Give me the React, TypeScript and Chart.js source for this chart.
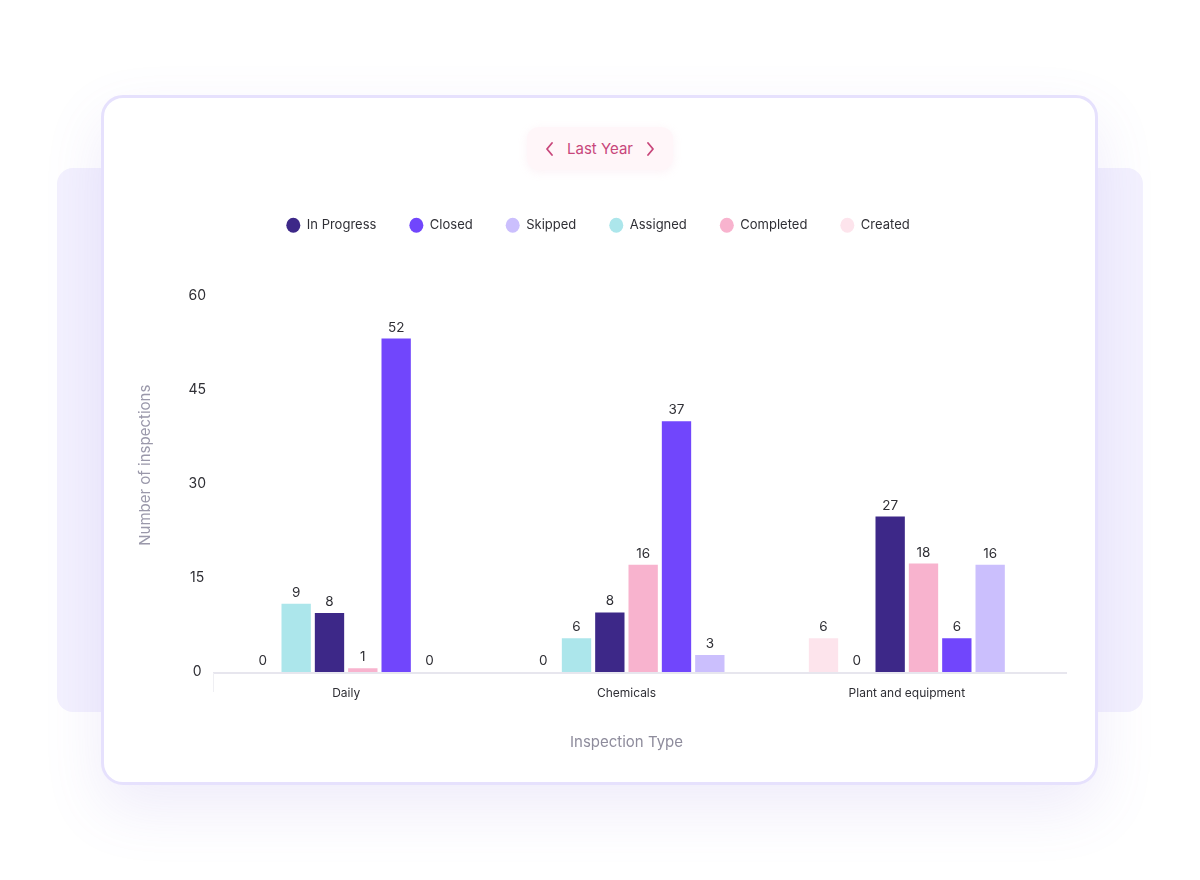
import React, { useEffect, useRef } from "react";
import { Chart, registerables } from "chart.js";

Chart.register(...registerables);

// ---------- data ----------
const categories = ["Daily", "Chemicals", "Plant and equipment"];
const seriesNames = ["Created", "Assigned", "In Progress", "Completed", "Closed", "Skipped"];
const legendOrder = ["In Progress", "Closed", "Skipped", "Assigned", "Completed", "Created"];
const seriesColors = ["#fde4ec", "#ace6eb", "#3d2888", "#f8b3ce", "#7146fc", "#cbbffd"];

// values printed above the bars
const createdLabels = [0, 0, 6];
const assignedLabels = [9, 6, 0];
const inProgressLabels = [8, 8, 27];
const completedLabels = [1, 16, 18];
const closedLabels = [52, 37, 6];
const skippedLabels = [0, 3, 16];

// bar heights as drawn in the picture
const createdHeights = [0, 0, 5.4];
const assignedHeights = [10.9, 5.4, 0];
const inProgressHeights = [9.4, 9.5, 24.8];
const completedHeights = [0.6, 17.1, 17.3];
const closedHeights = [53.2, 40, 5.4];
const skippedHeights = [0, 2.7, 17.1];

const yTicks = [0, 15, 30, 45, 60];
const yMax = 66;

const seriesHeights = [createdHeights, assignedHeights, inProgressHeights, completedHeights, closedHeights, skippedHeights];
const seriesLabels = [createdLabels, assignedLabels, inProgressLabels, completedLabels, closedLabels, skippedLabels];

const FONT = "Inter, 'Open Sans', sans-serif";

const valueLabelPlugin = {
  id: "valueLabels",
  afterDatasetsDraw(chart: any) {
    const ctx = chart.ctx;
    ctx.save();
    ctx.font = `13.5px ${FONT}`;
    ctx.fillStyle = "#2f2f35";
    ctx.textAlign = "center";
    ctx.textBaseline = "alphabetic";
    chart.data.datasets.forEach((ds: any, di: number) => {
      const meta = chart.getDatasetMeta(di);
      if (meta.hidden) return;
      meta.data.forEach((bar: any, i: number) => {
        const txt = String(seriesLabels[di][i]);
        ctx.fillText(txt, bar.x, bar.y - 7);
      });
    });
    ctx.restore();
  },
};

const baselinePlugin = {
  id: "baseline",
  beforeDatasetsDraw(chart: any) {
    const { ctx, chartArea, scales } = chart;
    const y0 = scales.y.getPixelForValue(0);
    ctx.save();
    ctx.strokeStyle = "#e7e6ee";
    ctx.lineWidth = 2;
    ctx.beginPath();
    ctx.moveTo(chartArea.left + 7, y0 + 1);
    ctx.lineTo(chartArea.right + 20, y0 + 1);
    ctx.stroke();
    ctx.strokeStyle = "#efeff3";
    ctx.lineWidth = 1;
    ctx.beginPath();
    ctx.moveTo(chartArea.left + 7.5, y0 + 1);
    ctx.lineTo(chartArea.left + 7.5, y0 + 20);
    ctx.stroke();
    ctx.restore();
  },
};

// adds space between the legend and the plot, and nudges the legend row to the page centre
const legendSpacerPlugin = {
  id: "legendSpacer",
  beforeUpdate(chart: any) {
    const lg = chart.legend;
    if (!lg || lg._spacerPatched) return;
    const origFit = lg.fit;
    lg.fit = function () {
      origFit.call(this);
      this.height += 16.7;
    };
    const origDraw = lg.draw;
    lg.draw = function () {
      const dx = 8.5;
      this.left += dx;
      this.right += dx;
      origDraw.call(this);
      this.left -= dx;
      this.right -= dx;
    };
    lg._spacerPatched = true;
  },
};

function ChartCanvas() {
  const ref = useRef<HTMLCanvasElement | null>(null);
  useEffect(() => {
    if (!ref.current) return;
    const chart = new Chart(ref.current, {
      type: "bar",
      data: {
        labels: categories,
        datasets: seriesNames.map((name, i) => ({
          label: name,
          data: seriesHeights[i],
          backgroundColor: seriesColors[i],
          borderWidth: 0,
          categoryPercentage: 0.7134,
          barPercentage: 0.88,
        })),
      },
      options: {
        responsive: false,
        animation: false,
        layout: { padding: { left: 132, right: 153, top: 185.7, bottom: 125 } },
        plugins: {
          tooltip: { enabled: false },
          legend: {
            position: "top",
            align: "center",
            labels: {
              usePointStyle: true,
              pointStyle: "circle",
              pointStyleWidth: 14,
              boxHeight: 10.6,
              padding: 33,
              color: "#2f2f35",
              font: { family: FONT, size: 13 },
              sort: (a: any, b: any) => legendOrder.indexOf(a.text) - legendOrder.indexOf(b.text),
            },
          },
        },
        scales: {
          x: {
            grid: { display: false, drawTicks: false },
            border: { display: false },
            ticks: { color: "#2f2f35", font: { family: FONT, size: 12 }, padding: 14, maxRotation: 0 },
            title: {
              display: true,
              text: "Inspection Type",
              color: "#8e8c9c",
              font: { family: FONT, size: 15 },
              padding: { top: 4, bottom: 4 },
            },
            afterFit: (s: any) => {
              s.height = 83;
            },
          },
          y: {
            min: 0,
            max: yMax,
            grid: { display: false, drawTicks: false },
            border: { display: false },
            afterBuildTicks: (s: any) => {
              s.ticks = yTicks.map((v) => ({ value: v }));
            },
            ticks: {
              color: "#2f2f35",
              font: { family: FONT, size: 14 },
              padding: 0,
              crossAlign: "center",
            },
            title: {
              display: true,
              text: "Number of inspections",
              color: "#9a98aa",
              font: { family: FONT, size: 15 },
              padding: { top: 4, bottom: 4 },
            },
            afterFit: (s: any) => {
              s.width = 74;
            },
          },
        },
      },
      plugins: [legendSpacerPlugin, baselinePlugin, valueLabelPlugin],
    } as any);
    return () => chart.destroy();
  }, []);
  return (
    <canvas
      ref={ref}
      width={1200}
      height={880}
      style={{ position: "absolute", left: 0, top: 0, width: 1200, height: 880 }}
    />
  );
}

function Chevron({ dir }: { dir: "left" | "right" }) {
  const pts = dir === "left" ? "7,1 2,7 7,13" : "2,1 7,7 2,13";
  return (
    <svg width="9" height="14" viewBox="0 0 9 14" style={{ display: "block" }}>
      <polyline points={pts} fill="none" stroke="#c8467b" strokeWidth="1.8" strokeLinecap="round" strokeLinejoin="round" />
    </svg>
  );
}

export default function App() {
  return (
    <div
      style={{
        position: "absolute",
        left: 0,
        top: 0,
        width: 1200,
        height: 880,
        overflow: "hidden",
        background: "#ffffff",
        fontFamily: FONT,
      }}
    >
      <div
        style={{
          position: "absolute",
          left: 57,
          top: 168,
          width: 1086,
          height: 544,
          borderRadius: 16,
          background: "#f3f1fe",
        }}
      />
      <div
        style={{
          position: "absolute",
          left: 101,
          top: 95,
          width: 997,
          height: 690,
          boxSizing: "border-box",
          border: "3px solid #e6e1fd",
          borderRadius: 22,
          background: "#ffffff",
          boxShadow: "0 24px 60px rgba(120, 100, 210, 0.12)",
        }}
      />
      <div
        style={{
          position: "absolute",
          left: 527,
          top: 127,
          width: 146,
          height: 43,
          borderRadius: 12,
          background: "#fff6f9",
          boxShadow: "0 2px 10px rgba(240, 180, 205, 0.18)",
          display: "flex",
          alignItems: "center",
          justifyContent: "center",
          gap: 13,
          color: "#c8467b",
          fontSize: 15,
        }}
      >
        <Chevron dir="left" />
        <span>Last Year</span>
        <Chevron dir="right" />
      </div>
      <ChartCanvas />
    </div>
  );
}
